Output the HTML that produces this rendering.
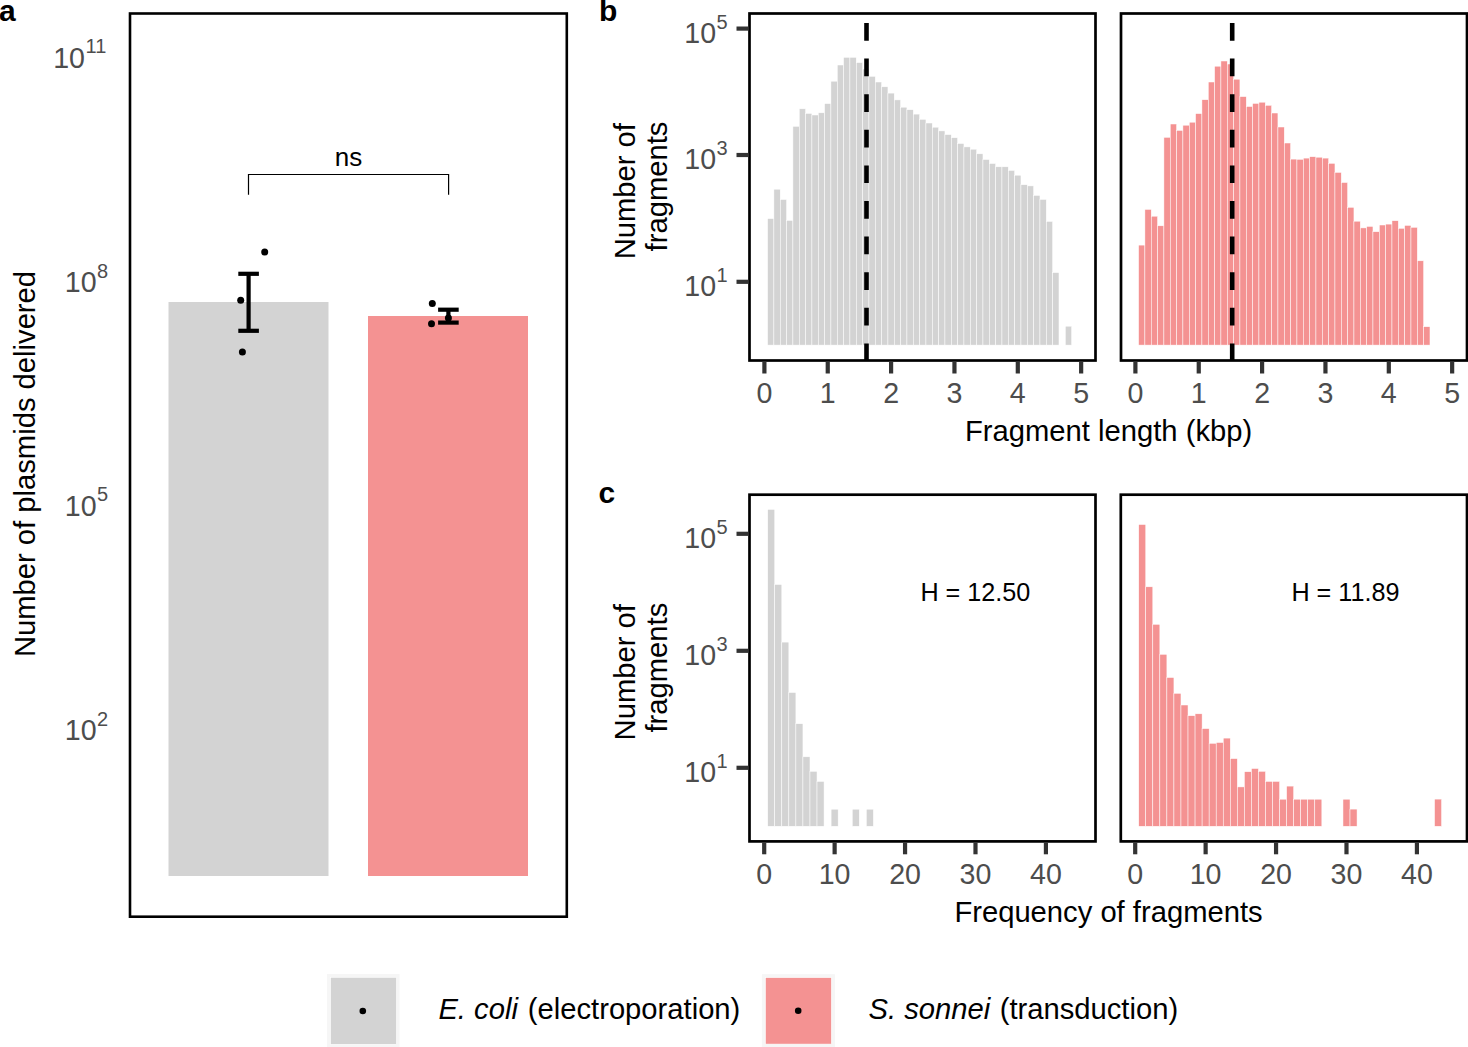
<!DOCTYPE html><html><head><meta charset="utf-8"><style>html,body{margin:0;padding:0;background:#fff;overflow:hidden;width:1468px;height:1047px;}svg{display:block;}text{font-family:"Liberation Sans", sans-serif;}</style></head><body>
<svg width="1468" height="1047" viewBox="0 0 1468 1047">
<rect x="0" y="0" width="1468" height="1047" fill="#fff"/>
<text x="-1" y="20.8" font-size="30" font-weight="bold" fill="#000">a</text>
<text x="599" y="20.8" font-size="30" font-weight="bold" fill="#000">b</text>
<text x="598.5" y="502.5" font-size="30" font-weight="bold" fill="#000">c</text>
<rect x="168.5" y="302" width="160" height="574" fill="#D3D3D3"/>
<rect x="368" y="316" width="160" height="560" fill="#F49292"/>
<line x1="248.6" y1="273.8" x2="248.6" y2="330.8" stroke="#000" stroke-width="4.2"/>
<line x1="238.29999999999998" y1="273.8" x2="258.9" y2="273.8" stroke="#000" stroke-width="4.2"/>
<line x1="238.29999999999998" y1="330.8" x2="258.9" y2="330.8" stroke="#000" stroke-width="4.2"/>
<line x1="448.4" y1="309.7" x2="448.4" y2="322.6" stroke="#000" stroke-width="4.2"/>
<line x1="438.09999999999997" y1="309.7" x2="458.7" y2="309.7" stroke="#000" stroke-width="4.2"/>
<line x1="438.09999999999997" y1="322.6" x2="458.7" y2="322.6" stroke="#000" stroke-width="4.2"/>
<circle cx="264.7" cy="252.0" r="3.5" fill="#000"/>
<circle cx="240.7" cy="300.2" r="3.5" fill="#000"/>
<circle cx="242.4" cy="351.9" r="3.5" fill="#000"/>
<circle cx="432.3" cy="303.6" r="3.5" fill="#000"/>
<circle cx="431.5" cy="323.8" r="3.5" fill="#000"/>
<circle cx="448.4" cy="317.9" r="3.5" fill="#000"/>
<polyline points="248.5,194.7 248.5,174.5 448.6,174.5 448.6,194.7" fill="none" stroke="#000" stroke-width="1.2"/>
<text x="348.6" y="165.6" font-size="26" text-anchor="middle" fill="#000">ns</text>
<rect x="130" y="13.5" width="436.8" height="903.2" fill="none" stroke="#000" stroke-width="2.6"/>
<text x="106.3" y="67.5" font-size="28.6" fill="#4D4D4D" text-anchor="end"><tspan>10</tspan><tspan font-size="20" dy="-14.4" dx="0.5">11</tspan></text>
<text x="108.2" y="292" font-size="28.6" fill="#4D4D4D" text-anchor="end"><tspan>10</tspan><tspan font-size="20" dy="-14.4" dx="0.5">8</tspan></text>
<text x="108.2" y="515.8" font-size="28.6" fill="#4D4D4D" text-anchor="end"><tspan>10</tspan><tspan font-size="20" dy="-14.4" dx="0.5">5</tspan></text>
<text x="108.2" y="740.3" font-size="28.6" fill="#4D4D4D" text-anchor="end"><tspan>10</tspan><tspan font-size="20" dy="-14.4" dx="0.5">2</tspan></text>
<text transform="translate(35,464) rotate(-90)" font-size="29.2" text-anchor="middle" fill="#000">Number of plasmids delivered</text>
<rect x="767.57" y="218.60" width="6.34" height="126.50" fill="#D3D3D3" stroke="#fff" stroke-width="0.5"/>
<rect x="773.90" y="189.20" width="6.33" height="155.90" fill="#D3D3D3" stroke="#fff" stroke-width="0.5"/>
<rect x="780.24" y="199.50" width="6.34" height="145.60" fill="#D3D3D3" stroke="#fff" stroke-width="0.5"/>
<rect x="786.57" y="220.40" width="6.34" height="124.70" fill="#D3D3D3" stroke="#fff" stroke-width="0.5"/>
<rect x="792.91" y="126.30" width="6.33" height="218.80" fill="#D3D3D3" stroke="#fff" stroke-width="0.5"/>
<rect x="799.24" y="108.80" width="6.34" height="236.30" fill="#D3D3D3" stroke="#fff" stroke-width="0.5"/>
<rect x="805.58" y="113.40" width="6.34" height="231.70" fill="#D3D3D3" stroke="#fff" stroke-width="0.5"/>
<rect x="811.91" y="115.00" width="6.33" height="230.10" fill="#D3D3D3" stroke="#fff" stroke-width="0.5"/>
<rect x="818.25" y="112.80" width="6.34" height="232.30" fill="#D3D3D3" stroke="#fff" stroke-width="0.5"/>
<rect x="824.58" y="103.60" width="6.34" height="241.50" fill="#D3D3D3" stroke="#fff" stroke-width="0.5"/>
<rect x="830.92" y="81.20" width="6.33" height="263.90" fill="#D3D3D3" stroke="#fff" stroke-width="0.5"/>
<rect x="837.25" y="65.00" width="6.34" height="280.10" fill="#D3D3D3" stroke="#fff" stroke-width="0.5"/>
<rect x="843.59" y="57.30" width="6.34" height="287.80" fill="#D3D3D3" stroke="#fff" stroke-width="0.5"/>
<rect x="849.92" y="57.30" width="6.33" height="287.80" fill="#D3D3D3" stroke="#fff" stroke-width="0.5"/>
<rect x="856.26" y="62.60" width="6.34" height="282.50" fill="#D3D3D3" stroke="#fff" stroke-width="0.5"/>
<rect x="862.59" y="69.00" width="6.34" height="276.10" fill="#D3D3D3" stroke="#fff" stroke-width="0.5"/>
<rect x="868.93" y="76.30" width="6.34" height="268.80" fill="#D3D3D3" stroke="#fff" stroke-width="0.5"/>
<rect x="875.26" y="82.00" width="6.34" height="263.10" fill="#D3D3D3" stroke="#fff" stroke-width="0.5"/>
<rect x="881.60" y="86.80" width="6.34" height="258.30" fill="#D3D3D3" stroke="#fff" stroke-width="0.5"/>
<rect x="887.93" y="93.10" width="6.33" height="252.00" fill="#D3D3D3" stroke="#fff" stroke-width="0.5"/>
<rect x="894.27" y="99.90" width="6.34" height="245.20" fill="#D3D3D3" stroke="#fff" stroke-width="0.5"/>
<rect x="900.60" y="107.20" width="6.34" height="237.90" fill="#D3D3D3" stroke="#fff" stroke-width="0.5"/>
<rect x="906.94" y="109.70" width="6.34" height="235.40" fill="#D3D3D3" stroke="#fff" stroke-width="0.5"/>
<rect x="913.27" y="114.10" width="6.33" height="231.00" fill="#D3D3D3" stroke="#fff" stroke-width="0.5"/>
<rect x="919.61" y="119.30" width="6.34" height="225.80" fill="#D3D3D3" stroke="#fff" stroke-width="0.5"/>
<rect x="925.94" y="123.00" width="6.33" height="222.10" fill="#D3D3D3" stroke="#fff" stroke-width="0.5"/>
<rect x="932.28" y="127.20" width="6.33" height="217.90" fill="#D3D3D3" stroke="#fff" stroke-width="0.5"/>
<rect x="938.61" y="130.90" width="6.34" height="214.20" fill="#D3D3D3" stroke="#fff" stroke-width="0.5"/>
<rect x="944.95" y="134.60" width="6.34" height="210.50" fill="#D3D3D3" stroke="#fff" stroke-width="0.5"/>
<rect x="951.28" y="137.70" width="6.33" height="207.40" fill="#D3D3D3" stroke="#fff" stroke-width="0.5"/>
<rect x="957.62" y="143.50" width="6.33" height="201.60" fill="#D3D3D3" stroke="#fff" stroke-width="0.5"/>
<rect x="963.95" y="146.90" width="6.34" height="198.20" fill="#D3D3D3" stroke="#fff" stroke-width="0.5"/>
<rect x="970.29" y="149.20" width="6.33" height="195.90" fill="#D3D3D3" stroke="#fff" stroke-width="0.5"/>
<rect x="976.62" y="153.80" width="6.34" height="191.30" fill="#D3D3D3" stroke="#fff" stroke-width="0.5"/>
<rect x="982.96" y="159.50" width="6.34" height="185.60" fill="#D3D3D3" stroke="#fff" stroke-width="0.5"/>
<rect x="989.29" y="163.50" width="6.33" height="181.60" fill="#D3D3D3" stroke="#fff" stroke-width="0.5"/>
<rect x="995.63" y="166.80" width="6.33" height="178.30" fill="#D3D3D3" stroke="#fff" stroke-width="0.5"/>
<rect x="1001.96" y="166.80" width="6.34" height="178.30" fill="#D3D3D3" stroke="#fff" stroke-width="0.5"/>
<rect x="1008.30" y="170.40" width="6.33" height="174.70" fill="#D3D3D3" stroke="#fff" stroke-width="0.5"/>
<rect x="1014.63" y="175.20" width="6.34" height="169.90" fill="#D3D3D3" stroke="#fff" stroke-width="0.5"/>
<rect x="1020.97" y="184.70" width="6.34" height="160.40" fill="#D3D3D3" stroke="#fff" stroke-width="0.5"/>
<rect x="1027.30" y="185.90" width="6.34" height="159.20" fill="#D3D3D3" stroke="#fff" stroke-width="0.5"/>
<rect x="1033.64" y="195.40" width="6.33" height="149.70" fill="#D3D3D3" stroke="#fff" stroke-width="0.5"/>
<rect x="1039.97" y="199.40" width="6.33" height="145.70" fill="#D3D3D3" stroke="#fff" stroke-width="0.5"/>
<rect x="1046.31" y="221.40" width="6.34" height="123.70" fill="#D3D3D3" stroke="#fff" stroke-width="0.5"/>
<rect x="1052.64" y="272.60" width="6.34" height="72.50" fill="#D3D3D3" stroke="#fff" stroke-width="0.5"/>
<rect x="1065.31" y="326.20" width="6.34" height="18.90" fill="#D3D3D3" stroke="#fff" stroke-width="0.5"/>
<rect x="1138.57" y="245.10" width="6.34" height="100.00" fill="#F49292" stroke="#fff" stroke-width="0.5"/>
<rect x="1144.90" y="209.40" width="6.34" height="135.70" fill="#F49292" stroke="#fff" stroke-width="0.5"/>
<rect x="1151.24" y="216.20" width="6.33" height="128.90" fill="#F49292" stroke="#fff" stroke-width="0.5"/>
<rect x="1157.57" y="225.80" width="6.34" height="119.30" fill="#F49292" stroke="#fff" stroke-width="0.5"/>
<rect x="1163.91" y="137.30" width="6.34" height="207.80" fill="#F49292" stroke="#fff" stroke-width="0.5"/>
<rect x="1170.24" y="124.00" width="6.34" height="221.10" fill="#F49292" stroke="#fff" stroke-width="0.5"/>
<rect x="1176.58" y="130.40" width="6.34" height="214.70" fill="#F49292" stroke="#fff" stroke-width="0.5"/>
<rect x="1182.91" y="125.20" width="6.34" height="219.90" fill="#F49292" stroke="#fff" stroke-width="0.5"/>
<rect x="1189.25" y="122.20" width="6.33" height="222.90" fill="#F49292" stroke="#fff" stroke-width="0.5"/>
<rect x="1195.58" y="113.60" width="6.34" height="231.50" fill="#F49292" stroke="#fff" stroke-width="0.5"/>
<rect x="1201.92" y="99.70" width="6.34" height="245.40" fill="#F49292" stroke="#fff" stroke-width="0.5"/>
<rect x="1208.25" y="82.00" width="6.34" height="263.10" fill="#F49292" stroke="#fff" stroke-width="0.5"/>
<rect x="1214.59" y="66.20" width="6.34" height="278.90" fill="#F49292" stroke="#fff" stroke-width="0.5"/>
<rect x="1220.92" y="61.00" width="6.34" height="284.10" fill="#F49292" stroke="#fff" stroke-width="0.5"/>
<rect x="1227.26" y="64.00" width="6.34" height="281.10" fill="#F49292" stroke="#fff" stroke-width="0.5"/>
<rect x="1233.59" y="79.20" width="6.33" height="265.90" fill="#F49292" stroke="#fff" stroke-width="0.5"/>
<rect x="1239.93" y="96.60" width="6.34" height="248.50" fill="#F49292" stroke="#fff" stroke-width="0.5"/>
<rect x="1246.26" y="106.50" width="6.34" height="238.60" fill="#F49292" stroke="#fff" stroke-width="0.5"/>
<rect x="1252.60" y="103.40" width="6.34" height="241.70" fill="#F49292" stroke="#fff" stroke-width="0.5"/>
<rect x="1258.93" y="102.20" width="6.34" height="242.90" fill="#F49292" stroke="#fff" stroke-width="0.5"/>
<rect x="1265.27" y="105.30" width="6.33" height="239.80" fill="#F49292" stroke="#fff" stroke-width="0.5"/>
<rect x="1271.60" y="113.00" width="6.33" height="232.10" fill="#F49292" stroke="#fff" stroke-width="0.5"/>
<rect x="1277.94" y="127.00" width="6.34" height="218.10" fill="#F49292" stroke="#fff" stroke-width="0.5"/>
<rect x="1284.27" y="143.00" width="6.34" height="202.10" fill="#F49292" stroke="#fff" stroke-width="0.5"/>
<rect x="1290.61" y="159.10" width="6.34" height="186.00" fill="#F49292" stroke="#fff" stroke-width="0.5"/>
<rect x="1296.94" y="159.30" width="6.34" height="185.80" fill="#F49292" stroke="#fff" stroke-width="0.5"/>
<rect x="1303.28" y="158.10" width="6.34" height="187.00" fill="#F49292" stroke="#fff" stroke-width="0.5"/>
<rect x="1309.61" y="156.70" width="6.34" height="188.40" fill="#F49292" stroke="#fff" stroke-width="0.5"/>
<rect x="1315.95" y="157.20" width="6.33" height="187.90" fill="#F49292" stroke="#fff" stroke-width="0.5"/>
<rect x="1322.28" y="158.10" width="6.34" height="187.00" fill="#F49292" stroke="#fff" stroke-width="0.5"/>
<rect x="1328.62" y="163.30" width="6.34" height="181.80" fill="#F49292" stroke="#fff" stroke-width="0.5"/>
<rect x="1334.95" y="172.40" width="6.34" height="172.70" fill="#F49292" stroke="#fff" stroke-width="0.5"/>
<rect x="1341.29" y="182.50" width="6.34" height="162.60" fill="#F49292" stroke="#fff" stroke-width="0.5"/>
<rect x="1347.62" y="207.30" width="6.33" height="137.80" fill="#F49292" stroke="#fff" stroke-width="0.5"/>
<rect x="1353.96" y="221.20" width="6.34" height="123.90" fill="#F49292" stroke="#fff" stroke-width="0.5"/>
<rect x="1360.29" y="227.90" width="6.34" height="117.20" fill="#F49292" stroke="#fff" stroke-width="0.5"/>
<rect x="1366.63" y="226.40" width="6.34" height="118.70" fill="#F49292" stroke="#fff" stroke-width="0.5"/>
<rect x="1372.96" y="231.70" width="6.34" height="113.40" fill="#F49292" stroke="#fff" stroke-width="0.5"/>
<rect x="1379.30" y="225.00" width="6.34" height="120.10" fill="#F49292" stroke="#fff" stroke-width="0.5"/>
<rect x="1385.63" y="224.10" width="6.34" height="121.00" fill="#F49292" stroke="#fff" stroke-width="0.5"/>
<rect x="1391.97" y="220.70" width="6.34" height="124.40" fill="#F49292" stroke="#fff" stroke-width="0.5"/>
<rect x="1398.30" y="228.30" width="6.33" height="116.80" fill="#F49292" stroke="#fff" stroke-width="0.5"/>
<rect x="1404.64" y="225.40" width="6.34" height="119.70" fill="#F49292" stroke="#fff" stroke-width="0.5"/>
<rect x="1410.97" y="227.30" width="6.34" height="117.80" fill="#F49292" stroke="#fff" stroke-width="0.5"/>
<rect x="1417.31" y="260.80" width="6.34" height="84.30" fill="#F49292" stroke="#fff" stroke-width="0.5"/>
<rect x="1423.64" y="326.70" width="6.34" height="18.40" fill="#F49292" stroke="#fff" stroke-width="0.5"/>
<line x1="866.5" y1="360.5" x2="866.5" y2="13.5" stroke="#000" stroke-width="4.6" stroke-dasharray="17.7 17.9" stroke-dashoffset="0.6"/>
<line x1="1232.2" y1="360.5" x2="1232.2" y2="13.5" stroke="#000" stroke-width="4.6" stroke-dasharray="17.7 17.9" stroke-dashoffset="0.6"/>
<rect x="749.5" y="13.5" width="346.0" height="347.0" fill="none" stroke="#000" stroke-width="2.7"/>
<rect x="1121" y="13.5" width="346" height="347.0" fill="none" stroke="#000" stroke-width="2.7"/>
<line x1="764.40" y1="361.5" x2="764.40" y2="373.5" stroke="#333333" stroke-width="4.2"/>
<text x="764.40" y="402.6" font-size="28.6" text-anchor="middle" fill="#4D4D4D">0</text>
<line x1="827.75" y1="361.5" x2="827.75" y2="373.5" stroke="#333333" stroke-width="4.2"/>
<text x="827.75" y="402.6" font-size="28.6" text-anchor="middle" fill="#4D4D4D">1</text>
<line x1="891.10" y1="361.5" x2="891.10" y2="373.5" stroke="#333333" stroke-width="4.2"/>
<text x="891.10" y="402.6" font-size="28.6" text-anchor="middle" fill="#4D4D4D">2</text>
<line x1="954.45" y1="361.5" x2="954.45" y2="373.5" stroke="#333333" stroke-width="4.2"/>
<text x="954.45" y="402.6" font-size="28.6" text-anchor="middle" fill="#4D4D4D">3</text>
<line x1="1017.80" y1="361.5" x2="1017.80" y2="373.5" stroke="#333333" stroke-width="4.2"/>
<text x="1017.80" y="402.6" font-size="28.6" text-anchor="middle" fill="#4D4D4D">4</text>
<line x1="1081.15" y1="361.5" x2="1081.15" y2="373.5" stroke="#333333" stroke-width="4.2"/>
<text x="1081.15" y="402.6" font-size="28.6" text-anchor="middle" fill="#4D4D4D">5</text>
<line x1="1135.40" y1="361.5" x2="1135.40" y2="373.5" stroke="#333333" stroke-width="4.2"/>
<text x="1135.40" y="402.6" font-size="28.6" text-anchor="middle" fill="#4D4D4D">0</text>
<line x1="1198.75" y1="361.5" x2="1198.75" y2="373.5" stroke="#333333" stroke-width="4.2"/>
<text x="1198.75" y="402.6" font-size="28.6" text-anchor="middle" fill="#4D4D4D">1</text>
<line x1="1262.10" y1="361.5" x2="1262.10" y2="373.5" stroke="#333333" stroke-width="4.2"/>
<text x="1262.10" y="402.6" font-size="28.6" text-anchor="middle" fill="#4D4D4D">2</text>
<line x1="1325.45" y1="361.5" x2="1325.45" y2="373.5" stroke="#333333" stroke-width="4.2"/>
<text x="1325.45" y="402.6" font-size="28.6" text-anchor="middle" fill="#4D4D4D">3</text>
<line x1="1388.80" y1="361.5" x2="1388.80" y2="373.5" stroke="#333333" stroke-width="4.2"/>
<text x="1388.80" y="402.6" font-size="28.6" text-anchor="middle" fill="#4D4D4D">4</text>
<line x1="1452.15" y1="361.5" x2="1452.15" y2="373.5" stroke="#333333" stroke-width="4.2"/>
<text x="1452.15" y="402.6" font-size="28.6" text-anchor="middle" fill="#4D4D4D">5</text>
<line x1="736.5" y1="28.6" x2="748.5" y2="28.6" stroke="#333333" stroke-width="4.2"/>
<text x="727.7" y="42.900000000000006" font-size="28.6" fill="#4D4D4D" text-anchor="end"><tspan>10</tspan><tspan font-size="20" dy="-14.4" dx="0.5">5</tspan></text>
<line x1="736.5" y1="155.0" x2="748.5" y2="155.0" stroke="#333333" stroke-width="4.2"/>
<text x="727.7" y="169.3" font-size="28.6" fill="#4D4D4D" text-anchor="end"><tspan>10</tspan><tspan font-size="20" dy="-14.4" dx="0.5">3</tspan></text>
<line x1="736.5" y1="281.8" x2="748.5" y2="281.8" stroke="#333333" stroke-width="4.2"/>
<text x="727.7" y="296.1" font-size="28.6" fill="#4D4D4D" text-anchor="end"><tspan>10</tspan><tspan font-size="20" dy="-14.4" dx="0.5">1</tspan></text>
<text x="1108.6" y="440.5" font-size="29.2" text-anchor="middle" fill="#000">Fragment length (kbp)</text>
<text transform="translate(634.6,191.2) rotate(-90)" font-size="29.2" text-anchor="middle" fill="#000">Number of</text>
<text transform="translate(666.6,186.5) rotate(-90)" font-size="29.2" text-anchor="middle" fill="#000">fragments</text>
<rect x="767.72" y="509.40" width="7.04" height="316.90" fill="#D3D3D3" stroke="#fff" stroke-width="0.5"/>
<rect x="774.76" y="584.50" width="7.04" height="241.80" fill="#D3D3D3" stroke="#fff" stroke-width="0.5"/>
<rect x="781.81" y="642.10" width="7.04" height="184.20" fill="#D3D3D3" stroke="#fff" stroke-width="0.5"/>
<rect x="788.85" y="692.50" width="7.04" height="133.80" fill="#D3D3D3" stroke="#fff" stroke-width="0.5"/>
<rect x="795.89" y="723.70" width="7.04" height="102.60" fill="#D3D3D3" stroke="#fff" stroke-width="0.5"/>
<rect x="802.94" y="756.80" width="7.04" height="69.50" fill="#D3D3D3" stroke="#fff" stroke-width="0.5"/>
<rect x="809.98" y="771.30" width="7.04" height="55.00" fill="#D3D3D3" stroke="#fff" stroke-width="0.5"/>
<rect x="817.02" y="781.40" width="7.04" height="44.90" fill="#D3D3D3" stroke="#fff" stroke-width="0.5"/>
<rect x="831.11" y="809.20" width="7.04" height="17.10" fill="#D3D3D3" stroke="#fff" stroke-width="0.5"/>
<rect x="852.24" y="809.20" width="7.04" height="17.10" fill="#D3D3D3" stroke="#fff" stroke-width="0.5"/>
<rect x="866.32" y="809.20" width="7.04" height="17.10" fill="#D3D3D3" stroke="#fff" stroke-width="0.5"/>
<rect x="1138.72" y="524.50" width="7.04" height="301.80" fill="#F49292" stroke="#fff" stroke-width="0.5"/>
<rect x="1145.76" y="586.80" width="7.04" height="239.50" fill="#F49292" stroke="#fff" stroke-width="0.5"/>
<rect x="1152.81" y="624.30" width="7.04" height="202.00" fill="#F49292" stroke="#fff" stroke-width="0.5"/>
<rect x="1159.85" y="654.30" width="7.04" height="172.00" fill="#F49292" stroke="#fff" stroke-width="0.5"/>
<rect x="1166.89" y="677.50" width="7.04" height="148.80" fill="#F49292" stroke="#fff" stroke-width="0.5"/>
<rect x="1173.94" y="693.30" width="7.04" height="133.00" fill="#F49292" stroke="#fff" stroke-width="0.5"/>
<rect x="1180.98" y="705.00" width="7.04" height="121.30" fill="#F49292" stroke="#fff" stroke-width="0.5"/>
<rect x="1188.02" y="715.70" width="7.04" height="110.60" fill="#F49292" stroke="#fff" stroke-width="0.5"/>
<rect x="1195.07" y="713.80" width="7.04" height="112.50" fill="#F49292" stroke="#fff" stroke-width="0.5"/>
<rect x="1202.11" y="728.60" width="7.04" height="97.70" fill="#F49292" stroke="#fff" stroke-width="0.5"/>
<rect x="1209.15" y="743.30" width="7.04" height="83.00" fill="#F49292" stroke="#fff" stroke-width="0.5"/>
<rect x="1216.19" y="742.50" width="7.04" height="83.80" fill="#F49292" stroke="#fff" stroke-width="0.5"/>
<rect x="1223.24" y="738.10" width="7.04" height="88.20" fill="#F49292" stroke="#fff" stroke-width="0.5"/>
<rect x="1230.28" y="758.60" width="7.04" height="67.70" fill="#F49292" stroke="#fff" stroke-width="0.5"/>
<rect x="1237.32" y="786.90" width="7.04" height="39.40" fill="#F49292" stroke="#fff" stroke-width="0.5"/>
<rect x="1244.37" y="771.70" width="7.04" height="54.60" fill="#F49292" stroke="#fff" stroke-width="0.5"/>
<rect x="1251.41" y="768.50" width="7.04" height="57.80" fill="#F49292" stroke="#fff" stroke-width="0.5"/>
<rect x="1258.45" y="771.30" width="7.04" height="55.00" fill="#F49292" stroke="#fff" stroke-width="0.5"/>
<rect x="1265.50" y="781.40" width="7.04" height="44.90" fill="#F49292" stroke="#fff" stroke-width="0.5"/>
<rect x="1272.54" y="781.40" width="7.04" height="44.90" fill="#F49292" stroke="#fff" stroke-width="0.5"/>
<rect x="1279.58" y="799.20" width="7.04" height="27.10" fill="#F49292" stroke="#fff" stroke-width="0.5"/>
<rect x="1286.62" y="786.10" width="7.04" height="40.20" fill="#F49292" stroke="#fff" stroke-width="0.5"/>
<rect x="1293.67" y="799.20" width="7.04" height="27.10" fill="#F49292" stroke="#fff" stroke-width="0.5"/>
<rect x="1300.71" y="799.20" width="7.04" height="27.10" fill="#F49292" stroke="#fff" stroke-width="0.5"/>
<rect x="1307.75" y="799.20" width="7.04" height="27.10" fill="#F49292" stroke="#fff" stroke-width="0.5"/>
<rect x="1314.80" y="799.20" width="7.04" height="27.10" fill="#F49292" stroke="#fff" stroke-width="0.5"/>
<rect x="1342.97" y="799.20" width="7.04" height="27.10" fill="#F49292" stroke="#fff" stroke-width="0.5"/>
<rect x="1350.01" y="809.10" width="7.04" height="17.20" fill="#F49292" stroke="#fff" stroke-width="0.5"/>
<rect x="1434.53" y="799.10" width="7.04" height="27.20" fill="#F49292" stroke="#fff" stroke-width="0.5"/>
<rect x="749.5" y="494.7" width="346.0" height="346.7" fill="none" stroke="#000" stroke-width="2.7"/>
<rect x="1120.8" y="494.7" width="346.20000000000005" height="346.7" fill="none" stroke="#000" stroke-width="2.7"/>
<line x1="764.20" y1="842.3" x2="764.20" y2="854.3" stroke="#333333" stroke-width="4.2"/>
<text x="764.20" y="883.8" font-size="28.6" text-anchor="middle" fill="#4D4D4D">0</text>
<line x1="834.63" y1="842.3" x2="834.63" y2="854.3" stroke="#333333" stroke-width="4.2"/>
<text x="834.63" y="883.8" font-size="28.6" text-anchor="middle" fill="#4D4D4D">10</text>
<line x1="905.06" y1="842.3" x2="905.06" y2="854.3" stroke="#333333" stroke-width="4.2"/>
<text x="905.06" y="883.8" font-size="28.6" text-anchor="middle" fill="#4D4D4D">20</text>
<line x1="975.49" y1="842.3" x2="975.49" y2="854.3" stroke="#333333" stroke-width="4.2"/>
<text x="975.49" y="883.8" font-size="28.6" text-anchor="middle" fill="#4D4D4D">30</text>
<line x1="1045.92" y1="842.3" x2="1045.92" y2="854.3" stroke="#333333" stroke-width="4.2"/>
<text x="1045.92" y="883.8" font-size="28.6" text-anchor="middle" fill="#4D4D4D">40</text>
<line x1="1135.20" y1="842.3" x2="1135.20" y2="854.3" stroke="#333333" stroke-width="4.2"/>
<text x="1135.20" y="883.8" font-size="28.6" text-anchor="middle" fill="#4D4D4D">0</text>
<line x1="1205.63" y1="842.3" x2="1205.63" y2="854.3" stroke="#333333" stroke-width="4.2"/>
<text x="1205.63" y="883.8" font-size="28.6" text-anchor="middle" fill="#4D4D4D">10</text>
<line x1="1276.06" y1="842.3" x2="1276.06" y2="854.3" stroke="#333333" stroke-width="4.2"/>
<text x="1276.06" y="883.8" font-size="28.6" text-anchor="middle" fill="#4D4D4D">20</text>
<line x1="1346.49" y1="842.3" x2="1346.49" y2="854.3" stroke="#333333" stroke-width="4.2"/>
<text x="1346.49" y="883.8" font-size="28.6" text-anchor="middle" fill="#4D4D4D">30</text>
<line x1="1416.92" y1="842.3" x2="1416.92" y2="854.3" stroke="#333333" stroke-width="4.2"/>
<text x="1416.92" y="883.8" font-size="28.6" text-anchor="middle" fill="#4D4D4D">40</text>
<line x1="736.5" y1="533.8" x2="748.5" y2="533.8" stroke="#333333" stroke-width="4.2"/>
<text x="727.7" y="548.0999999999999" font-size="28.6" fill="#4D4D4D" text-anchor="end"><tspan>10</tspan><tspan font-size="20" dy="-14.4" dx="0.5">5</tspan></text>
<line x1="736.5" y1="650.8" x2="748.5" y2="650.8" stroke="#333333" stroke-width="4.2"/>
<text x="727.7" y="665.0999999999999" font-size="28.6" fill="#4D4D4D" text-anchor="end"><tspan>10</tspan><tspan font-size="20" dy="-14.4" dx="0.5">3</tspan></text>
<line x1="736.5" y1="767.8" x2="748.5" y2="767.8" stroke="#333333" stroke-width="4.2"/>
<text x="727.7" y="782.0999999999999" font-size="28.6" fill="#4D4D4D" text-anchor="end"><tspan>10</tspan><tspan font-size="20" dy="-14.4" dx="0.5">1</tspan></text>
<text x="1108.5" y="922.4" font-size="29.2" text-anchor="middle" fill="#000">Frequency of fragments</text>
<text transform="translate(634.6,672.3) rotate(-90)" font-size="29.2" text-anchor="middle" fill="#000">Number of</text>
<text transform="translate(666.6,667.6) rotate(-90)" font-size="29.2" text-anchor="middle" fill="#000">fragments</text>
<text x="920.4" y="601.2" font-size="25.2" fill="#000">H = 12.50</text>
<text x="1291.4" y="601.2" font-size="25.2" fill="#000">H = 11.89</text>
<rect x="327" y="974" width="72.5" height="73" fill="#F6F6F6"/>
<rect x="761.9" y="974.2" width="73" height="73" fill="#F6F6F6"/>
<rect x="330.5" y="977.3" width="66" height="67" fill="#D3D3D3" stroke="#fff" stroke-width="0.6"/>
<circle cx="362.8" cy="1011" r="3.3" fill="#000"/>
<rect x="765.4" y="977.6" width="66" height="66.5" fill="#F49292" stroke="#fff" stroke-width="0.6"/>
<circle cx="798.2" cy="1010.8" r="3.3" fill="#000"/>
<text x="438.4" y="1018.6" font-size="29.2" font-style="italic" fill="#000">E. coli</text>
<text x="527.8" y="1018.6" font-size="29.2" fill="#000">(electroporation)</text>
<text x="868.6" y="1018.6" font-size="29.2" font-style="italic" fill="#000">S. sonnei</text>
<text x="999.7" y="1018.6" font-size="29.2" fill="#000">(transduction)</text>
</svg></body></html>
